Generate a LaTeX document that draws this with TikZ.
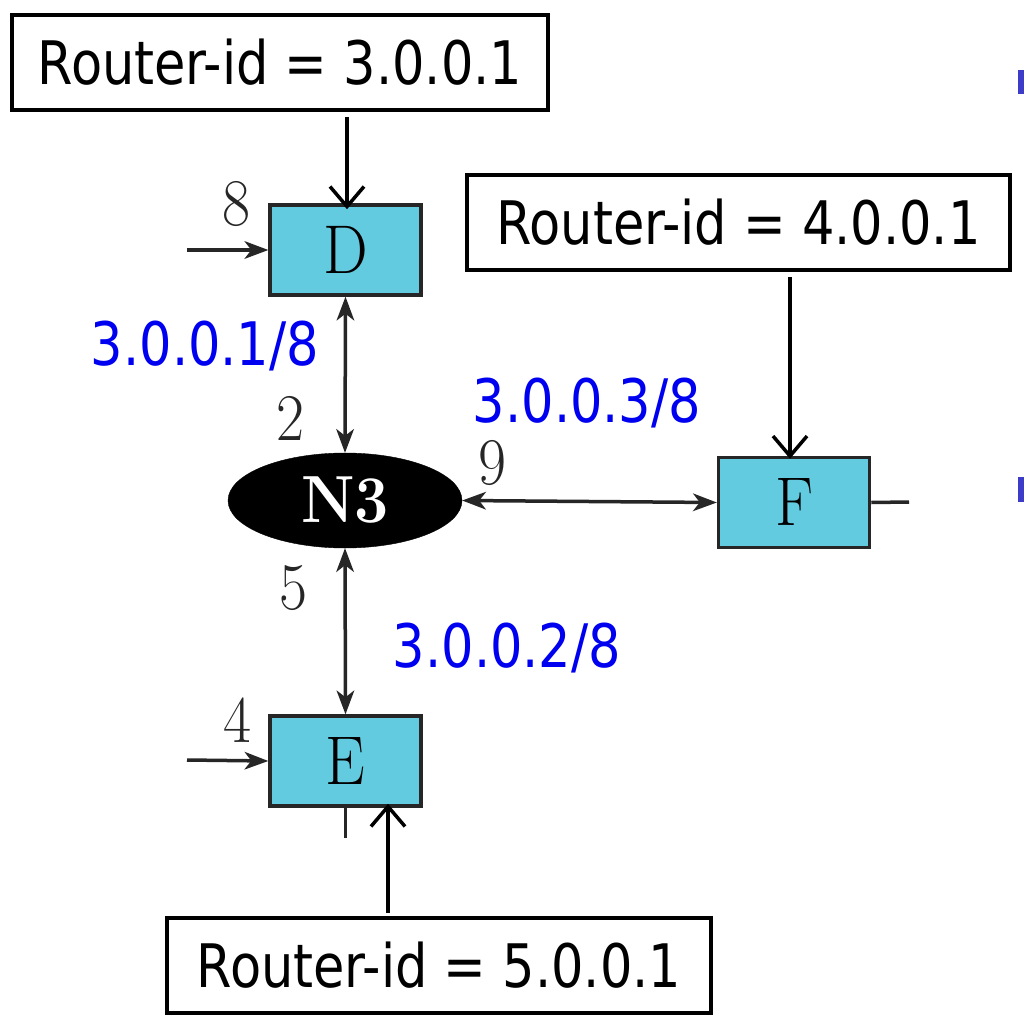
\documentclass[tikz,border=0pt]{standalone}
\usepackage{graphicx}
\usepackage{fontspec}
\usetikzlibrary{arrows.meta,shapes.geometric}
\newfontfamily\tah[FakeStretch=0.85]{DejaVu Sans}
\definecolor{boxcyan}{HTML}{63CBDF}
\definecolor{dline}{HTML}{262626}
\definecolor{lblue}{HTML}{0000F0}
\definecolor{bullet}{HTML}{3C3CC8}
\newcommand\vsc[1]{\scalebox{1.05}[1.15]{#1}}
\tikzset{lk/.tip={Stealth[length=24pt,width=18pt,inset=7pt,line width=0pt]}}
\begin{document}
\begin{tikzpicture}[x=1pt,y=-1pt,
  rid/.style={draw=black,line width=4pt,inner sep=0pt,minimum height=95pt,font=\tah\fontsize{60}{72}\selectfont},
  rtr/.style={draw=dline,line width=3.5pt,fill=boxcyan,inner sep=0pt,minimum width=151pt,minimum height=90pt,font=\fontsize{60}{60}\selectfont},
  net/.style={ellipse,fill=black,draw=black,inner sep=0pt,minimum width=234pt,minimum height=95pt,text=white,font=\bfseries\fontsize{58}{58}\selectfont},
  addr/.style={text=lblue,inner sep=0pt,font=\tah\fontsize{60}{72}\selectfont},
  cost/.style={text=dline,inner sep=0pt,font=\fontsize{58}{58}\selectfont},
  link/.style={draw=dline,line width=3.5pt},
  ridarrow/.style={draw=black,line width=3.5pt,-{Straight Barb[length=20pt,width=34pt,line width=3.5pt]}}
]
\useasboundingbox (0,0) rectangle (1024,1024);
\fill[white] (0,0) rectangle (1024,1024);

% routers and network
\node[rtr] (D) at (345.5,250) {\vsc{D}};
\node[rtr] (E) at (345.5,761) {\vsc{E}};
\node[rtr] (F) at (794,502.5) {\vsc{F}};
\node[net] (N3) at (345,500.5) {\vsc{N3}};

% router-id boxes
\node[rid,minimum width=536pt] (R3) at (280,62.5) {Router-id = 3.0.0.1};
\node[rid,minimum width=543pt] (R4) at (738.5,222.5) {Router-id = 4.0.0.1};
\node[rid,minimum width=544pt] (R5) at (439,965.5) {Router-id = 5.0.0.1};

% address labels
\node[addr] (a1) at (205,346) {3.0.0.1/8};
\node[addr] (a3) at (587,403) {3.0.0.3/8};
\node[addr] (a2) at (507,648) {3.0.0.2/8};

% cost labels
\node[cost] (c8) at (236,204) {\vsc{8}};
\node[cost] (c2) at (290,418) {\vsc{2}};
\node[cost] (c9) at (492,463) {\vsc{9}};
\node[cost] (c5) at (293,588) {\vsc{5}};
\node[cost] (c4) at (237,720) {\vsc{4}};

% stub coordinates
\coordinate (Din) at (187,250);
\coordinate (Ein) at (187,760);
\coordinate (Fout) at (909,502);
\coordinate (Eout) at (345.5,838);

% links
\draw[link,{lk}-{lk}] (D.south) -- (N3.north);
\draw[link,{lk}-{lk}] (N3.south) -- (E.north);
\draw[link,{lk}-{lk}] (N3.east) -- (F.west);
\draw[link,-{lk}] (Din) -- (D.west);
\draw[link,-{lk}] (Ein) -- (E.west);
\draw[link] (F.east) -- (Fout);
\draw[link] (E.south) -- (Eout);

% router-id arrows
\draw[ridarrow] ([xshift=67pt,yshift=-5pt]R3.south) -- ([xshift=1.5pt,yshift=-6pt]D.north);
\draw[ridarrow] ([xshift=51.5pt,yshift=-5pt]R4.south) -- ([xshift=-4pt,yshift=-3pt]F.north);
\draw[ridarrow] ([xshift=-51pt,yshift=3pt]R5.north) -- ([xshift=42.5pt,yshift=4pt]E.south);

% bullet fragments at right edge
\fill[bullet] (1018,70) rectangle (1024,94);
\fill[bullet] (1018,477) rectangle (1024,502);
\end{tikzpicture}
\end{document}
